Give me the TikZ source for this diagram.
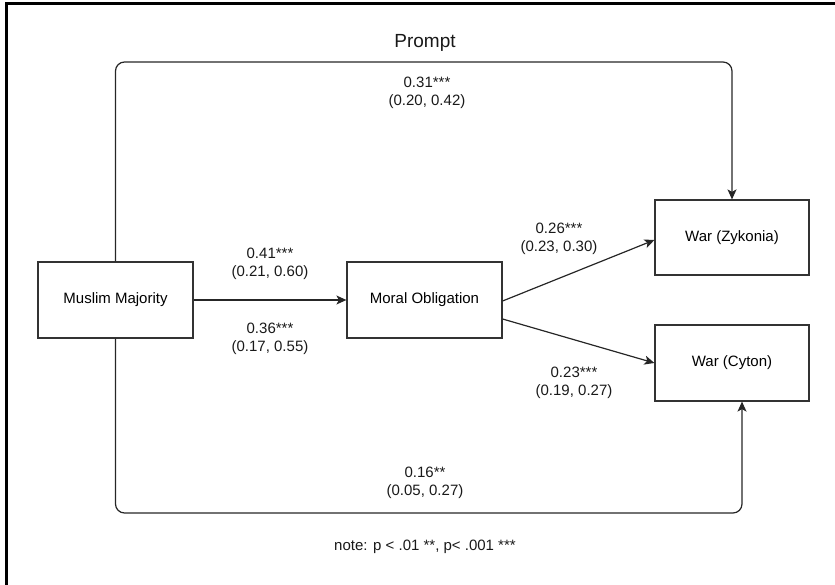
\documentclass[tikz,border=0pt]{standalone}
\usepackage{fontspec}
\setmainfont{Liberation Sans}
\usepackage{xcolor}
\usetikzlibrary{arrows.meta}

\tikzset{
  box/.style={draw=black!80, line width=1.2pt, minimum width=155pt, minimum height=76pt, font=\fontsize{15}{18}\selectfont},
  pfeil/.style={draw=black!85, line width=1.2pt, -{Stealth[length=10pt,width=9pt,inset=2.5pt]}},
  wert/.style={align=center, font=\fontsize{15}{18}\selectfont, text=black!90}
}

\begin{document}
\begin{tikzpicture}[x=1pt, y=-1pt]
\useasboundingbox (0,0) rectangle (835,585);
% Rahmen oben und links
\draw[line width=3pt] (6,586) -- (6,4) -- (836,4);

\node[box] (mm) at (115.5,300) {Muslim Majority};
\node[box] (mo) at (424.5,300) {Moral Obligation};
\node[box, minimum width=154pt, minimum height=75pt] (zy) at (732,237.5) {War (Zykonia)};
\node[box, minimum width=154pt] (cy) at (732,363) {War (Cyton)};

\coordinate (oben) at (0,62);
\coordinate (unten) at (0,513);
\coordinate (cyfuss) at ([xshift=10pt]cy.south);

\draw[pfeil] (mm.east) -- (mo.west);
\draw[pfeil] ([yshift=-1pt]mo.east) -- ([yshift=-2.5pt]zy.west);
\draw[pfeil] ([yshift=-19pt]mo.east) -- (cy.west);
% mit rounded corners um die Boxen herum
\draw[pfeil, rounded corners=9pt] (mm.north) -- (mm.north |- oben) -- (zy.north |- oben) -- (zy.north);
\draw[pfeil, rounded corners=9pt] (mm.south) -- (mm.south |- unten) -- (cyfuss |- unten) -- (cyfuss);

\node[font=\fontsize{19}{22}\selectfont, text=black!90] (prompt) at (425,43) {Prompt};
\node[wert] (w1) at (427,93) {0.31***\\(0.20, 0.42)};
\node[wert] (w2) at (270,264) {0.41***\\(0.21, 0.60)};
\node[wert] (w3) at (270,339) {0.36***\\(0.17, 0.55)};
\node[wert] (w4) at (559,239) {0.26***\\(0.23, 0.30)};
\node[wert] (w5) at (574,383) {0.23***\\(0.19, 0.27)};
\node[wert] (w6) at (425,483) {0.16**\\(0.05, 0.27)};
\node[wert] (note) at (425,547) {note: p {<} .01 **, p{<} .001 ***};
\end{tikzpicture}
\end{document}
